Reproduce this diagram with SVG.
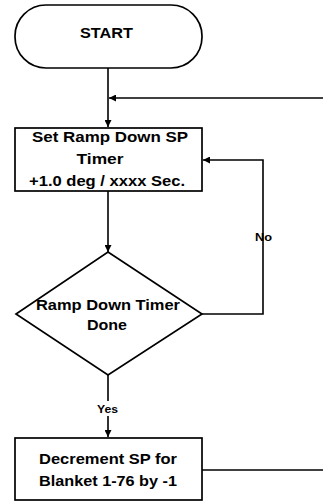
<svg xmlns="http://www.w3.org/2000/svg" width="323" height="504" viewBox="0 0 323 504">
<style>
.s{fill:#fff;stroke:#000;stroke-width:1.7}
.c{fill:none;stroke:#000;stroke-width:1.6}
text{font-family:"Liberation Sans",Arial,sans-serif;font-weight:bold;font-size:15px;fill:#000;text-anchor:middle}
.l{font-size:11.5px}
</style>
<defs>
<marker id="a" viewBox="0 0 10 10" refX="10" refY="5" markerWidth="7" markerHeight="7" orient="auto" markerUnits="userSpaceOnUse">
<path d="M0,0L10,5L0,10z" fill="#000"/>
</marker>
</defs>
<g id="connectors">
<path class="c" d="M108,68V127" marker-end="url(#a)"/>
<path class="c" d="M323,98H109" marker-end="url(#a)"/>
<path class="c" d="M108,191V252" marker-end="url(#a)"/>
<path class="c" d="M202,314H263V160H203" marker-end="url(#a)"/>
<path class="c" d="M108,375V401M108,416V437" marker-end="url(#a)"/>
<path class="c" d="M202,470H323"/>
<text class="l" x="263.5" y="241" textLength="17" lengthAdjust="spacingAndGlyphs">No</text>
<text class="l" x="107.5" y="412.5" textLength="21" lengthAdjust="spacingAndGlyphs">Yes</text>
</g>
<g id="start">
<rect class="s" x="15" y="5" width="187" height="63" rx="31" ry="31"/>
<text x="106.5" y="38" font-size="14" textLength="53" lengthAdjust="spacingAndGlyphs">START</text>
</g>
<g id="set-ramp">
<rect class="s" x="15" y="128" width="187" height="63"/>
<text x="110" y="142" textLength="156" lengthAdjust="spacingAndGlyphs">Set Ramp Down SP</text>
<text x="100" y="164" textLength="47" lengthAdjust="spacingAndGlyphs">Timer</text>
<text x="107" y="186" textLength="156" lengthAdjust="spacingAndGlyphs">+1.0 deg / xxxx Sec.</text>
</g>
<g id="timer-done">
<polygon class="s" points="108,252 202,314 108,375 16,314"/>
<text x="108" y="310" textLength="144" lengthAdjust="spacingAndGlyphs">Ramp Down Timer</text>
<text x="107" y="330" textLength="40" lengthAdjust="spacingAndGlyphs">Done</text>
</g>
<g id="decrement">
<rect class="s" x="15" y="438" width="187" height="62"/>
<text x="108" y="464" textLength="138" lengthAdjust="spacingAndGlyphs">Decrement SP for</text>
<text x="108" y="486" textLength="138" lengthAdjust="spacingAndGlyphs">Blanket 1-76 by -1</text>
</g>
</svg>
